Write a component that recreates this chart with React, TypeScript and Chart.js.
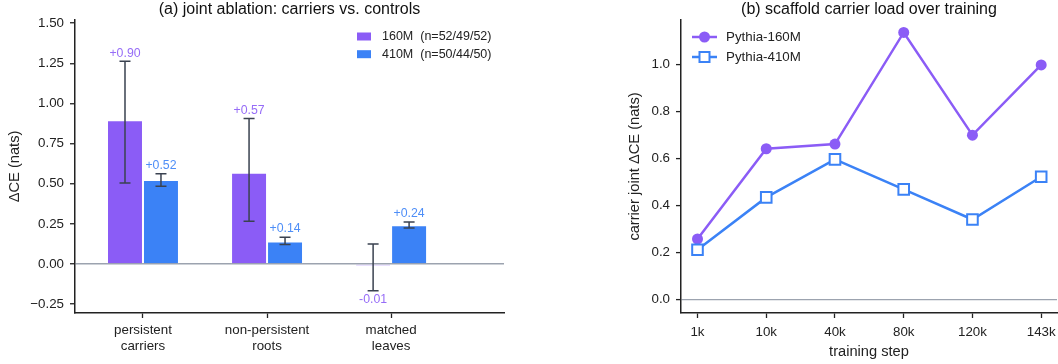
import React, { useEffect, useRef } from "react";
import { Chart, registerables } from "chart.js";

Chart.register(...registerables);

const FONT = '"Liberation Sans", Arial, Helvetica, sans-serif';
const PURPLE = "#8b5cf6";
const BLUE = "#3b82f6";
const INK = "#222222";
const ERR = "#3a4250";
const ZERO = "#9ca3af";

// ---- Panel (a) data ----
const groupLabels: string[][] = [
  ["persistent", "carriers"],
  ["non-persistent", "roots"],
  ["matched", "leaves"],
];
const seriesA = ["160M  (n=52/49/52)", "410M  (n=50/44/50)"];
const mean160 = [0.896, 0.569, -0.01];
const lo160 = [0.505, 0.267, -0.166];
const hi160 = [1.263, 0.906, 0.124];
const mean410 = [0.524, 0.141, 0.242];
const lo410 = [0.484, 0.122, 0.225];
const hi410 = [0.562, 0.167, 0.262];
const yTicksA = [-0.25, 0, 0.25, 0.5, 0.75, 1.0, 1.25, 1.5];

// ---- Panel (b) data ----
const steps = ["1k", "10k", "40k", "80k", "120k", "143k"];
const seriesB = ["Pythia-160M", "Pythia-410M"];
const load160 = [0.258, 0.642, 0.662, 1.137, 0.7, 0.999];
const load410 = [0.212, 0.435, 0.597, 0.469, 0.341, 0.523];
const yTicksB = [0, 0.2, 0.4, 0.6, 0.8, 1.0];

const fmtMinus = (s: string) => s.replace("-", "\u2212");

const errorBarPlugin = {
  id: "errorBars",
  afterDatasetsDraw(chart: any) {
    const ctx = chart.ctx;
    const ys = chart.scales.y;
    const los = [lo160, lo410];
    const his = [hi160, hi410];
    const means = [mean160, mean410];
    const cols = [PURPLE, BLUE];
    ctx.save();
    chart.data.datasets.forEach((_: any, d: number) => {
      const meta = chart.getDatasetMeta(d);
      meta.data.forEach((el: any, i: number) => {
        const x = el.x;
        const yl = ys.getPixelForValue(los[d][i]);
        const yh = ys.getPixelForValue(his[d][i]);
        ctx.strokeStyle = ERR;
        ctx.lineWidth = 1.5;
        ctx.beginPath();
        ctx.moveTo(x, yl);
        ctx.lineTo(x, yh);
        ctx.moveTo(x - 5.5, yl);
        ctx.lineTo(x + 5.5, yl);
        ctx.moveTo(x - 5.5, yh);
        ctx.lineTo(x + 5.5, yh);
        ctx.stroke();
        const v = means[d][i];
        const txt = (v >= 0 ? "+" : "") + v.toFixed(2);
        ctx.fillStyle = cols[d];
        ctx.globalAlpha = 0.9;
        ctx.font = `12.3px ${FONT}`;
        ctx.textAlign = "center";
        if (v >= 0) {
          ctx.textBaseline = "bottom";
          ctx.fillText(txt, x, yh - 2);
        } else {
          ctx.textBaseline = "top";
          ctx.fillText(txt, x, yl + 3);
        }
        ctx.globalAlpha = 1;
      });
    });
    ctx.restore();
  },
};

const legendAPlugin = {
  id: "legendA",
  afterDraw(chart: any) {
    const { ctx, chartArea } = chart;
    const cols = [PURPLE, BLUE];
    ctx.save();
    ctx.font = `12.5px ${FONT}`;
    ctx.textBaseline = "middle";
    ctx.textAlign = "left";
    seriesA.forEach((name, i) => {
      const bx = chartArea.right - 147;
      const cy = chartArea.top + 16.5 + i * 17.7;
      ctx.fillStyle = cols[i];
      ctx.fillRect(bx, cy - 4, 14, 8);
      ctx.fillStyle = INK;
      ctx.fillText(name, bx + 25, cy);
    });
    ctx.restore();
  },
};

const legendBPlugin = {
  id: "legendB",
  afterDraw(chart: any) {
    const { ctx, chartArea } = chart;
    ctx.save();
    ctx.font = `13.33px ${FONT}`;
    ctx.textBaseline = "middle";
    ctx.textAlign = "left";
    seriesB.forEach((name, i) => {
      const x0 = chartArea.left + 11;
      const x1 = chartArea.left + 36;
      const cy = chartArea.top + 17 + i * 20;
      const cx = (x0 + x1) / 2;
      const col = i === 0 ? PURPLE : BLUE;
      ctx.strokeStyle = col;
      ctx.lineWidth = 2.5;
      ctx.beginPath();
      ctx.moveTo(x0, cy);
      ctx.lineTo(x1, cy);
      ctx.stroke();
      if (i === 0) {
        ctx.fillStyle = col;
        ctx.beginPath();
        ctx.arc(cx, cy, 5.5, 0, Math.PI * 2);
        ctx.fill();
      } else {
        ctx.fillStyle = "#ffffff";
        ctx.lineWidth = 2;
        ctx.fillRect(cx - 5, cy - 5, 10, 10);
        ctx.strokeRect(cx - 5, cy - 5, 10, 10);
      }
      ctx.fillStyle = INK;
      ctx.fillText(name, chartArea.left + 45, cy);
    });
    ctx.restore();
  },
};

function titleOpts(text: string) {
  return {
    display: true,
    text,
    color: "#111",
    fullSize: false,
    font: { family: FONT, size: 16, weight: "normal" as const, lineHeight: 1.0 },
    padding: { top: 2, bottom: 2 },
  };
}

const zeroPad = (s: any) => {
  s.paddingLeft = 0;
  s.paddingRight = 0;
  s.paddingTop = 0;
  s.paddingBottom = 0;
};

function PanelA() {
  const ref = useRef<HTMLCanvasElement>(null);
  useEffect(() => {
    const chart = new Chart(ref.current!, {
      type: "bar",
      data: {
        datasets: [
          {
            label: seriesA[0],
            data: mean160.map((v, i) => ({ x: i, y: v })),
            backgroundColor: PURPLE,
            borderColor: "#ffffff",
            borderWidth: 1,
          },
          {
            label: seriesA[1],
            data: mean410.map((v, i) => ({ x: i, y: v })),
            backgroundColor: BLUE,
            borderColor: "#ffffff",
            borderWidth: 1,
          },
        ],
      },
      options: {
        responsive: false,
        animation: false,
        categoryPercentage: 0.58,
        barPercentage: 1,
        layout: { autoPadding: false, padding: { left: 0, right: 26, top: 0, bottom: 0 } },
        plugins: {
          legend: { display: false },
          tooltip: { enabled: false },
          title: titleOpts("(a) joint ablation: carriers vs. controls"),
        },
        scales: {
          x: {
            type: "linear",
            offset: false,
            min: -0.548,
            max: 2.91,
            afterBuildTicks: (s: any) => {
              s.ticks = groupLabels.map((_, i) => ({ value: i }));
            },
            afterFit: (s: any) => {
              s.height = 51;
              zeroPad(s);
            },
            ticks: {
              autoSkip: false,
              maxRotation: 0,
              padding: 5,
              color: INK,
              font: { family: FONT, size: 13.33, lineHeight: 1.15 },
              callback: (_v: any, i: number) => groupLabels[i],
            },
            grid: {
              offset: false,
              drawOnChartArea: false,
              drawTicks: true,
              tickLength: 5,
              tickColor: INK,
              tickWidth: 1.3,
            },
            border: { display: true, color: INK, width: 1.5 },
          },
          y: {
            type: "linear",
            min: -0.305,
            max: 1.52,
            afterBuildTicks: (s: any) => {
              s.ticks = yTicksA.map((v) => ({ value: v }));
            },
            afterFit: (s: any) => {
              s.width = 75;
              zeroPad(s);
            },
            ticks: {
              padding: 6,
              color: INK,
              font: { family: FONT, size: 13.33 },
              callback: (v: any) => fmtMinus(Number(v).toFixed(2)),
            },
            grid: {
              drawTicks: true,
              tickLength: 5,
              tickColor: INK,
              tickWidth: 1.3,
              lineWidth: 1.5,
              color: (c: any) => (c.tick && c.tick.value === 0 ? ZERO : "rgba(0,0,0,0)"),
            },
            border: { display: true, color: INK, width: 1.5 },
            title: {
              display: true,
              text: "ΔCE (nats)",
              color: INK,
              font: { family: FONT, size: 14.67 },
              padding: { top: 6, bottom: 0 },
            },
          },
        },
      },
      plugins: [errorBarPlugin, legendAPlugin],
    } as any);
    return () => chart.destroy();
  }, []);
  return <canvas ref={ref} width={530} height={364} style={{ position: "absolute", left: 0, top: 0 }} />;
}

function PanelB() {
  const ref = useRef<HTMLCanvasElement>(null);
  useEffect(() => {
    const chart = new Chart(ref.current!, {
      type: "line",
      data: {
        datasets: [
          {
            label: seriesB[0],
            data: load160.map((v, i) => ({ x: i, y: v })),
            borderColor: PURPLE,
            backgroundColor: PURPLE,
            borderWidth: 2.5,
            pointStyle: "circle",
            pointRadius: 5.5,
            pointBorderWidth: 0,
            pointBackgroundColor: PURPLE,
            order: 1,
          },
          {
            label: seriesB[1],
            data: load410.map((v, i) => ({ x: i, y: v })),
            borderColor: BLUE,
            backgroundColor: "#ffffff",
            borderWidth: 2.5,
            pointStyle: "rect",
            pointRadius: 7.5,
            pointBorderWidth: 2,
            pointBackgroundColor: "#ffffff",
            pointBorderColor: BLUE,
            order: 0,
          },
        ],
      },
      options: {
        responsive: false,
        animation: false,
        layout: { autoPadding: false, padding: { left: 90, right: 1, top: 0, bottom: 0 } },
        plugins: {
          legend: { display: false },
          tooltip: { enabled: false },
          title: titleOpts("(b) scaffold carrier load over training"),
        },
        scales: {
          x: {
            type: "linear",
            min: -0.24,
            max: 5.23,
            afterBuildTicks: (s: any) => {
              s.ticks = steps.map((_, i) => ({ value: i }));
            },
            afterFit: (s: any) => {
              s.height = 51;
              zeroPad(s);
            },
            ticks: {
              autoSkip: false,
              maxRotation: 0,
              padding: 6,
              color: INK,
              font: { family: FONT, size: 13.33 },
              callback: (_v: any, i: number) => steps[i],
            },
            grid: {
              drawOnChartArea: false,
              drawTicks: true,
              tickLength: 5,
              tickColor: INK,
              tickWidth: 1.3,
            },
            border: { display: true, color: INK, width: 1.5 },
            title: {
              display: true,
              text: "training step",
              color: INK,
              font: { family: FONT, size: 14.67 },
              padding: { top: 0, bottom: 3 },
            },
          },
          y: {
            type: "linear",
            min: -0.057,
            max: 1.19,
            afterBuildTicks: (s: any) => {
              s.ticks = yTicksB.map((v) => ({ value: v }));
            },
            afterFit: (s: any) => {
              s.width = 61;
              zeroPad(s);
            },
            ticks: {
              padding: 6,
              color: INK,
              font: { family: FONT, size: 13.33 },
              callback: (v: any) => Number(v).toFixed(1),
            },
            grid: {
              drawTicks: true,
              tickLength: 5,
              tickColor: INK,
              tickWidth: 1.3,
              lineWidth: 1.2,
              color: (c: any) => (c.tick && c.tick.value === 0 ? ZERO : "rgba(0,0,0,0)"),
            },
            border: { display: true, color: INK, width: 1.5 },
            title: {
              display: true,
              text: "carrier joint ΔCE (nats)",
              color: INK,
              font: { family: FONT, size: 14.67 },
              padding: { top: 6, bottom: 0 },
            },
          },
        },
      },
      plugins: [legendBPlugin],
    } as any);
    return () => chart.destroy();
  }, []);
  return <canvas ref={ref} width={528} height={364} style={{ position: "absolute", left: 530, top: 0 }} />;
}

export default function App() {
  return (
    <div style={{ position: "absolute", left: 0, top: 0, width: 1058, height: 364, background: "#fff" }}>
      <PanelA />
      <PanelB />
    </div>
  );
}
